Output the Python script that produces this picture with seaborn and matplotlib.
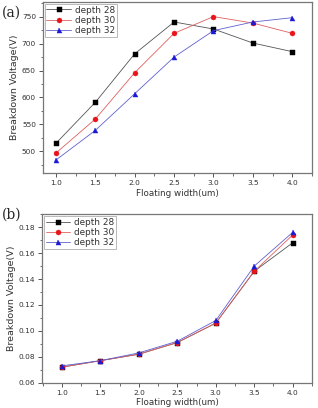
import numpy as np
import pandas as pd
import matplotlib
matplotlib.use("Agg")
import matplotlib.pyplot as plt
import seaborn as sns
from matplotlib.ticker import AutoMinorLocator, MultipleLocator, FormatStrFormatter

widths = [1.0, 1.5, 2.0, 2.5, 3.0, 3.5, 4.0]
series = ["depth 28", "depth 30", "depth 32"]

a_d28 = [515, 591, 681, 740, 727, 701, 685]
a_d30 = [497, 560, 646, 719, 750, 738, 719]
a_d32 = [484, 539, 607, 675, 724, 740, 748]

b_d28 = [0.072, 0.077, 0.082, 0.091, 0.106, 0.146, 0.168]
b_d30 = [0.072, 0.077, 0.082, 0.091, 0.106, 0.146, 0.174]
b_d32 = [0.073, 0.077, 0.083, 0.092, 0.108, 0.150, 0.176]

def long(vals):
    rows = []
    for name, v in zip(series, vals):
        for w, y in zip(widths, v):
            rows.append({"width": w, "V": y, "series": name})
    return pd.DataFrame(rows)

df_a = long([a_d28, a_d30, a_d32])
df_b = long([b_d28, b_d30, b_d32])

sns.set_style("white")
plt.rcParams['font.family'] = ['DejaVu Sans']

palette = {"depth 28": "black", "depth 30": "#e8141a", "depth 32": "#1a1ad6"}
linecol = {"depth 28": "#555555", "depth 30": "#e06060", "depth 32": "#6060d0"}
markers = {"depth 28": "s", "depth 30": "o", "depth 32": "^"}

fig = plt.figure(figsize=(3.18, 4.08), dpi=100)
ax1 = fig.add_axes([0.135, 0.576, 0.846, 0.419])
ax2 = fig.add_axes([0.132, 0.062, 0.849, 0.413])

for ax, df in [(ax1, df_a), (ax2, df_b)]:
    for name in series:
        sub = df[df.series == name]
        sns.lineplot(data=sub, x="width", y="V", ax=ax, color=linecol[name],
                     marker=markers[name], markersize=3.6, linewidth=0.6,
                     markeredgewidth=0.3, markeredgecolor=palette[name],
                     markerfacecolor=palette[name], label=name)
    ax.set_xlabel("Floating width(um)", fontsize=6.3, color="#333333", labelpad=2)
    ax.set_ylabel("Breakdown Voltage(V)", fontsize=6.8, color="#333333", labelpad=2)
    ax.xaxis.set_major_locator(MultipleLocator(0.5))
    ax.xaxis.set_minor_locator(AutoMinorLocator(2))
    ax.tick_params(axis="both", which="major", direction="out", length=3,
                   width=0.7, labelsize=5.3, colors="#555555", labelcolor="#333333",
                   bottom=True, left=True, pad=2)
    ax.tick_params(axis="both", which="minor", direction="out", length=1.8,
                   width=0.6, colors="#555555", bottom=True, left=True)
    for s in ax.spines.values():
        s.set_color("#777777")
        s.set_linewidth(0.9)
    leg = ax.legend(loc="upper left", fontsize=6.4, frameon=True, fancybox=False,
                    borderpad=0.2, labelspacing=0.15, handlelength=2.8,
                    handletextpad=0.4, borderaxespad=0.2)
    leg.get_frame().set_edgecolor("#999999")
    leg.get_frame().set_linewidth(0.6)
    for t in leg.get_texts():
        t.set_color("#333333")

ax1.set_xlim(0.835, 4.25)
ax1.set_ylim(460, 777)
ax1.yaxis.set_major_locator(MultipleLocator(50))
ax1.yaxis.set_minor_locator(AutoMinorLocator(2))

ax2.set_xlim(0.74, 4.25)
ax2.set_ylim(0.06, 0.19)
ax2.yaxis.set_major_locator(MultipleLocator(0.02))
ax2.yaxis.set_minor_locator(AutoMinorLocator(2))
ax2.yaxis.set_major_formatter(FormatStrFormatter("%.2f"))

fig.text(0.005, 0.985, "(a)", fontsize=10, family="DejaVu Serif", va="top")
fig.text(0.005, 0.49, "(b)", fontsize=10, family="DejaVu Serif", va="top")

fig.savefig("out.png", dpi=100)
